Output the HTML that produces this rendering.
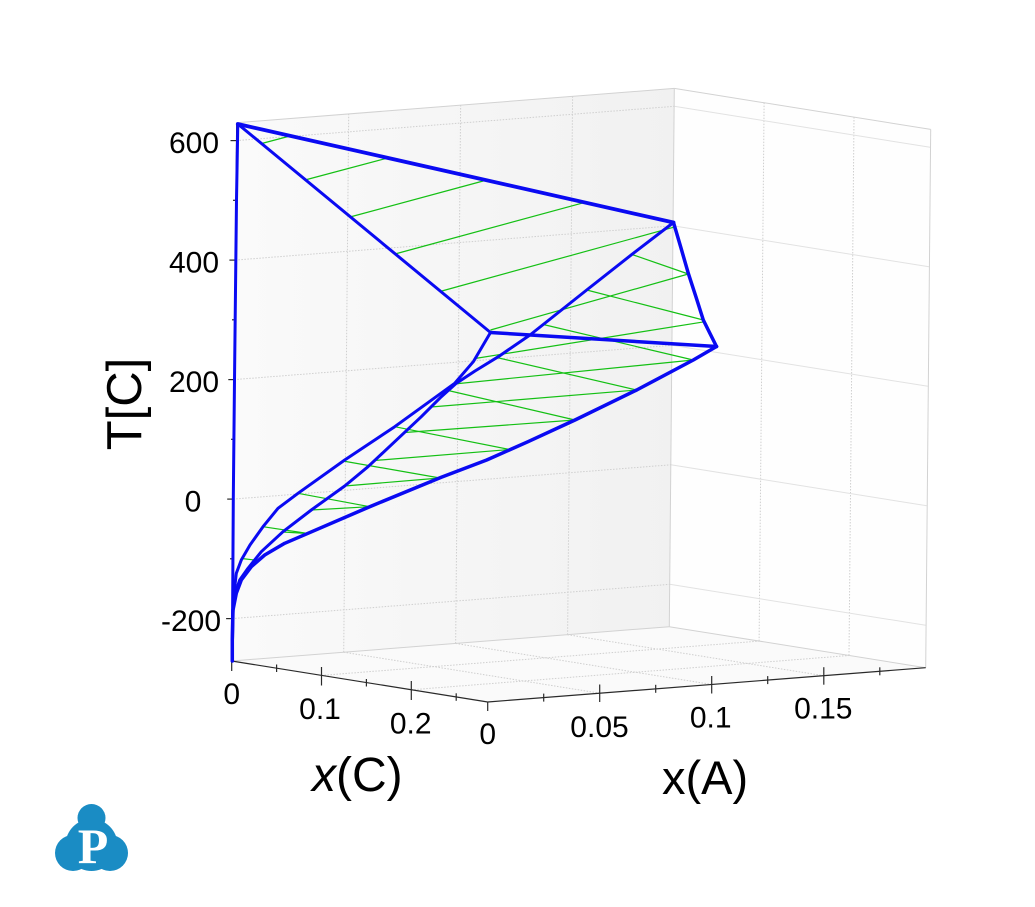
<!DOCTYPE html>
<html>
<head>
<meta charset="utf-8">
<style>
  html,body{margin:0;padding:0;background:#ffffff;}
  svg{display:block;}
  text{font-family:"Liberation Sans",Arial,sans-serif;fill:#000;}
</style>
</head>
<body>
<svg width="1035" height="907" viewBox="0 0 1035 907" xmlns="http://www.w3.org/2000/svg">
  <defs>
    <linearGradient id="lw" x1="231" y1="0" x2="675" y2="0" gradientUnits="userSpaceOnUse">
      <stop offset="0" stop-color="#fafafa"/>
      <stop offset="1" stop-color="#f1f1f1"/>
    </linearGradient>
  </defs>
  <rect width="1035" height="907" fill="#ffffff"/>

  <!-- walls -->
  <polygon points="231.7,661 669.3,626.7 674.3,88.4 236.7,122.7" fill="url(#lw)"/>
  <polygon points="231.7,661 487.7,702 925.7,667.7 669.3,626.7" fill="#fafafa"/>
  <polygon points="669.3,626.7 925.7,667.7 930.7,129.4 674.3,88.4" fill="#fefefe"/>

  <!-- left wall gridlines (dotted) -->
  <g stroke="#cfcfcf" stroke-width="1" stroke-dasharray="1.5,1.5" fill="none">
    <line x1="236.5" y1="140.6" x2="674.1" y2="106.3"/>
    <line x1="235.4" y1="260.1" x2="673.0" y2="225.8"/>
    <line x1="234.3" y1="379.6" x2="671.9" y2="345.3"/>
    <line x1="233.2" y1="499.1" x2="670.8" y2="464.8"/>
    <line x1="232.1" y1="618.6" x2="669.7" y2="584.3"/>
    <line x1="343.7" y1="652.2" x2="348.7" y2="113.9"/>
    <line x1="455.65" y1="643.45" x2="460.65" y2="105.15"/>
    <line x1="567.6" y1="634.7" x2="572.6" y2="96.4"/>
    <!-- floor -->
    <line x1="321.5" y1="675.4" x2="759.1" y2="641.1"/>
    <line x1="411.3" y1="689.8" x2="848.9" y2="655.5"/>
    <line x1="343.7" y1="652.2" x2="599.7" y2="693.2"/>
    <line x1="455.65" y1="643.45" x2="711.65" y2="684.45"/>
    <line x1="567.6" y1="634.7" x2="823.6" y2="675.7"/>
    <!-- right wall verticals -->
    <line x1="759.1" y1="641.1" x2="764.1" y2="102.8"/>
    <line x1="849.0" y1="655.5" x2="854.0" y2="117.2"/>
  </g>
  <!-- right wall horizontal gridlines -->
  <g stroke="#e2e2e2" stroke-width="1" fill="none">
    <line x1="674.1" y1="106.3" x2="930.1" y2="147.3"/>
    <line x1="673.0" y1="225.8" x2="929.0" y2="266.8"/>
    <line x1="671.9" y1="345.3" x2="927.9" y2="386.3"/>
    <line x1="670.8" y1="464.8" x2="926.8" y2="505.8"/>
    <line x1="669.7" y1="584.3" x2="925.7" y2="625.3"/>
  </g>
  <!-- box edges -->
  <g stroke="#d2d2d2" stroke-width="1" fill="none">
    <line x1="236.7" y1="122.7" x2="674.3" y2="88.4"/>
    <line x1="674.3" y1="88.4" x2="930.7" y2="129.4"/>
    <line x1="930.7" y1="129.4" x2="925.7" y2="667.7"/>
    <line x1="669.3" y1="626.7" x2="674.3" y2="88.4"/>
    <line x1="231.7" y1="661" x2="669.3" y2="626.7"/>
    <line x1="669.3" y1="626.7" x2="925.7" y2="667.7"/>
  </g>

  <!-- axes -->
  <g stroke="#2a2a2a" stroke-width="1.2" fill="none">
    <line x1="231.7" y1="661" x2="236.7" y2="122.7"/>
    <line x1="231.7" y1="661" x2="487.7" y2="702"/>
    <line x1="487.7" y1="702" x2="925.7" y2="667.7"/>
    <!-- x(C) ticks -->
    <line x1="231.7" y1="661" x2="231.7" y2="671"/>
    <line x1="276.6" y1="664.5" x2="276.6" y2="672"/>
    <line x1="321.5" y1="667" x2="321.5" y2="685.5"/>
    <line x1="366.4" y1="679" x2="366.4" y2="686.5"/>
    <line x1="411.3" y1="681" x2="411.3" y2="700"/>
    <line x1="456.2" y1="693.3" x2="456.2" y2="700.8"/>
    <line x1="487.7" y1="702" x2="487.7" y2="711"/>
    <!-- x(A) ticks -->
    <line x1="543.7" y1="693.6" x2="543.7" y2="701.6"/>
    <line x1="599.7" y1="684.5" x2="599.7" y2="702"/>
    <line x1="655.7" y1="684.8" x2="655.7" y2="692.8"/>
    <line x1="711.7" y1="676" x2="711.7" y2="693.5"/>
    <line x1="767.7" y1="676.1" x2="767.7" y2="684.1"/>
    <line x1="823.8" y1="667.2" x2="823.8" y2="684.7"/>
    <line x1="879.8" y1="667.3" x2="879.8" y2="675.3"/>
    <!-- T ticks -->
    <line x1="230.5" y1="140.6" x2="237" y2="140.6"/>
    <line x1="233" y1="200.3" x2="237" y2="200.3"/>
    <line x1="229.4" y1="260.1" x2="236" y2="260.1"/>
    <line x1="232" y1="319.8" x2="236" y2="319.8"/>
    <line x1="228.3" y1="379.6" x2="235" y2="379.6"/>
    <line x1="231" y1="439.3" x2="235" y2="439.3"/>
    <line x1="227.2" y1="499.1" x2="234" y2="499.1"/>
    <line x1="230" y1="558.8" x2="234" y2="558.8"/>
    <line x1="226.1" y1="618.6" x2="233" y2="618.6"/>
  </g>

  <!-- green tie-lines -->
  <g stroke="#14c014" stroke-width="1.2" fill="none">
    <line x1="261.7" y1="143.5" x2="290" y2="136"/>
    <line x1="305" y1="180" x2="386.7" y2="158.3"/>
    <line x1="350" y1="217" x2="485" y2="180.5"/>
    <line x1="395" y1="254" x2="583.3" y2="202.8"/>
    <line x1="440" y1="291.5" x2="673.3" y2="227.3"/>
    <line x1="490.5" y1="330" x2="688.3" y2="274"/>
    <line x1="632" y1="254.5" x2="688.3" y2="274"/>
    <line x1="475" y1="358.5" x2="705" y2="321.7"/>
    <line x1="586.7" y1="290" x2="703.3" y2="320"/>
    <line x1="543.3" y1="324.5" x2="693.3" y2="360"/>
    <line x1="454" y1="384" x2="693.3" y2="360"/>
    <line x1="496.7" y1="357.5" x2="636.7" y2="390"/>
    <line x1="431" y1="407" x2="636.7" y2="390"/>
    <line x1="446" y1="390" x2="575" y2="420"/>
    <line x1="404.7" y1="432.5" x2="575" y2="420"/>
    <line x1="394.7" y1="426.7" x2="509.7" y2="449.5"/>
    <line x1="374.7" y1="460.5" x2="509.7" y2="449.5"/>
    <line x1="343" y1="461" x2="440" y2="478"/>
    <line x1="344.7" y1="486" x2="440" y2="478"/>
    <line x1="298" y1="493.3" x2="369.7" y2="506.7"/>
    <line x1="311.3" y1="510" x2="369.7" y2="506.7"/>
    <line x1="263" y1="526.7" x2="308" y2="533.5"/>
    <line x1="283" y1="532" x2="308" y2="533.5"/>
    <line x1="241.5" y1="558.5" x2="259" y2="560.5"/>
  </g>

  <!-- blue phase boundaries -->
  <g stroke="#0a0af2" fill="none" stroke-linejoin="round" stroke-linecap="round">
    <polyline stroke-width="3" points="232.3,661 233.3,499 234.5,380 236.5,200 237.8,124"/>
    <line stroke-width="3.8" x1="237.8" y1="124" x2="673.5" y2="222.5"/>
    <line stroke-width="3" x1="237.8" y1="124" x2="490.5" y2="332.5"/>
    <line stroke-width="3.5" x1="490.5" y1="332.5" x2="716.5" y2="346.5"/>
    <polyline stroke-width="3.5" points="673.5,222.5 681,248 688.3,273.3 696,297 703.3,320 710,333.5 716.5,346.5"/>
    <polyline stroke-width="3" points="673.5,222.5 633.3,253.3 586.7,290 530,335 498.3,356.7 475,371 456,383.5 441.3,396.7 421.3,416.7 394.7,441.7 368,466.7 344.7,486 311.3,510 283,531.7 261.3,551.7 248,568.3 239.7,580 234,596.7 232.5,615 232.3,640"/>
    <polyline stroke-width="3" points="490.5,332.5 473.3,361.7 454.7,383.3 394.7,426.7 344.7,460 298,493.3 278,508.3 263,526.7 250,545 241.3,560 236.3,573.3 234,593.3 233,613 232.5,640"/>
    <polyline stroke-width="3.5" points="716.5,346.5 693.3,360 636.7,390 575,420 528,441.7 486.7,460 441.3,477.3 369.7,506.7 308,533.3 284.7,543.3 264.7,555 251.3,566.7 241.3,580 236.3,593.3 233,610 232.3,640 232.3,661"/>
  </g>

  <!-- T tick labels -->
  <g font-size="30" text-anchor="middle">
    <text x="194" y="153">600</text>
    <text x="194" y="272.5">400</text>
    <text x="194" y="392">200</text>
    <text x="193" y="511.5">0</text>
    <text x="191" y="631">-200</text>
  </g>
  <!-- x tick labels -->
  <g font-size="30" text-anchor="middle">
    <text x="231.7" y="704">0</text>
    <text x="320" y="719">0.1</text>
    <text x="410.7" y="733.5">0.2</text>
    <text x="487.7" y="744">0</text>
    <text x="599.5" y="737">0.05</text>
    <text x="710.7" y="727.5">0.1</text>
    <text x="823.3" y="718.5">0.15</text>
  </g>

  <!-- axis titles -->
  <text x="312" y="791" font-size="48"><tspan font-style="italic">x</tspan>(C)</text>
  <text x="662" y="794" font-size="47">x(A)</text>
  <text transform="translate(141,404) rotate(-90)" x="0" y="0" font-size="49" text-anchor="middle">T[C]</text>

  <!-- logo -->
  <g fill="#1a8cc4">
    <circle cx="91.5" cy="818" r="14"/>
    <circle cx="73" cy="853" r="18"/>
    <circle cx="110" cy="853" r="18"/>
    <circle cx="91.5" cy="845" r="26"/>
    <polygon points="91.5,810 62,858 121,858"/>
  </g>
  <text x="93" y="863" font-size="50" font-weight="bold" text-anchor="middle" style="font-family:'Liberation Serif',serif;fill:#ffffff;">P</text>
</svg>
</body>
</html>
